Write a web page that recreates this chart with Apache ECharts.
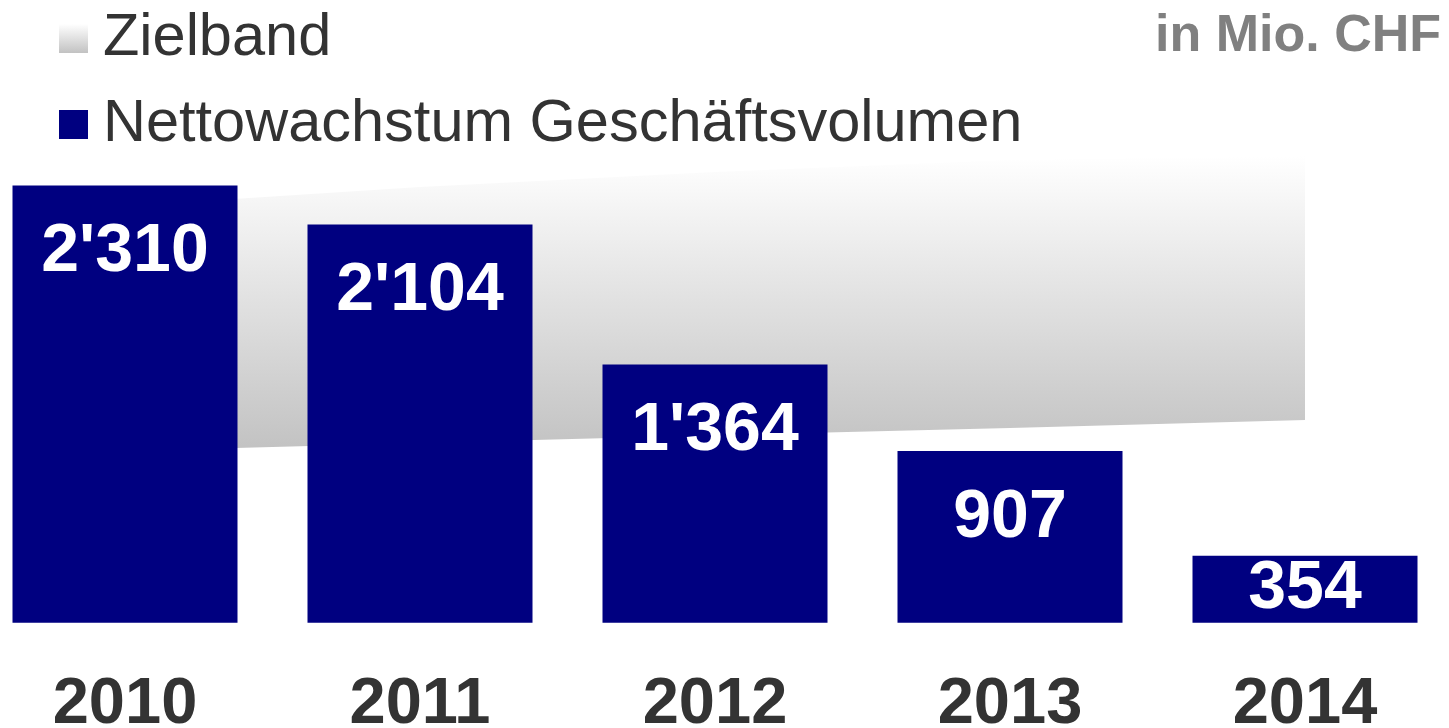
<!DOCTYPE html>
<html>
<head>
<meta charset="utf-8">
<script src="https://cdn.jsdelivr.net/npm/echarts@6/dist/echarts.min.js"></script>
<style>
  html, body { margin: 0; padding: 0; background: #fff; }
  #chart { width: 1449px; height: 728px; }
</style>
</head>
<body>
<div id="chart"></div>
<script>
  // Jahre und Werte (in Mio. CHF)
  var years = ['2010', '2011', '2012', '2013', '2014'];
  var nettowachstum = [2310, 2104, 1364, 907, 354];
  // Zielband: untere und obere Grenze
  var zielUnten = [907, 950, 991, 1029, 1071];
  var zielOben = [2202, 2302, 2382, 2445, 2466];

  var bandDicke = zielOben.map(function (v, i) { return v - zielUnten[i]; });

  function fmt(v) {
    return String(v).replace(/\B(?=(\d{3})+(?!\d))/g, "'");
  }

  var grauVerlauf = new echarts.graphic.LinearGradient(0, 0, 0, 1, [
    { offset: 0, color: '#ffffff' },
    { offset: 1, color: '#c2c2c2' }
  ]);

  var myChart = echarts.init(document.getElementById('chart'));
  myChart.setOption({
    animation: false,
    textStyle: { fontFamily: 'Liberation Sans, Arial, sans-serif' },
    legend: {
      orient: 'vertical',
      left: 54,
      top: 3,
      itemWidth: 29,
      itemHeight: 29,
      itemGap: 25,
      selectedMode: false,
      textStyle: {
        fontSize: 59.5,
        color: '#333333',
        lineHeight: 61,
        padding: [0, 0, 0, 10]
      },
      data: [
        { name: 'Zielband', icon: 'rect', itemStyle: { color: grauVerlauf } },
        { name: 'Nettowachstum Geschäftsvolumen', icon: 'rect', itemStyle: { color: '#000080' } }
      ]
    },
    graphic: [{
      type: 'text',
      right: 8,
      top: 11,
      style: {
        text: 'in Mio. CHF',
        fontSize: 52,
        fontWeight: 'bold',
        fill: '#808080',
        fontFamily: 'Liberation Sans, Arial, sans-serif'
      }
    }],
    grid: { left: -22.5, right: -3.5, top: 55, bottom: 105.3, outerBoundsMode: 'none' },
    xAxis: {
      type: 'category',
      data: years,
      axisLine: { show: false },
      axisTick: { show: false },
      axisLabel: {
        fontSize: 65,
        fontWeight: 'bold',
        color: '#333333',
        margin: 50
      }
    },
    yAxis: {
      type: 'value',
      min: 0,
      max: 3000,
      show: false,
      splitLine: { show: false }
    },
    series: [
      {
        name: 'basis',
        type: 'line',
        stack: 'ziel',
        data: zielUnten,
        symbol: 'none',
        lineStyle: { opacity: 0 },
        silent: true
      },
      {
        name: 'Zielband',
        type: 'line',
        stack: 'ziel',
        data: bandDicke,
        symbol: 'none',
        lineStyle: { opacity: 0 },
        itemStyle: { color: grauVerlauf },
        areaStyle: { color: grauVerlauf, opacity: 1 },
        silent: true
      },
      {
        name: 'Nettowachstum Geschäftsvolumen',
        type: 'bar',
        barWidth: 225,
        z: 5,
        itemStyle: { color: '#000080' },
        data: nettowachstum.map(function (v, i) {
          var item = { value: v };
          if (i === nettowachstum.length - 1) {
            item.label = { position: 'inside', distance: 0 };
          }
          return item;
        }),
        label: {
          show: true,
          position: 'insideTop',
          distance: 33,
          fontSize: 68,
          fontWeight: 'bold',
          color: '#ffffff',
          formatter: function (p) { return fmt(p.value); }
        }
      }
    ]
  });
</script>
</body>
</html>
